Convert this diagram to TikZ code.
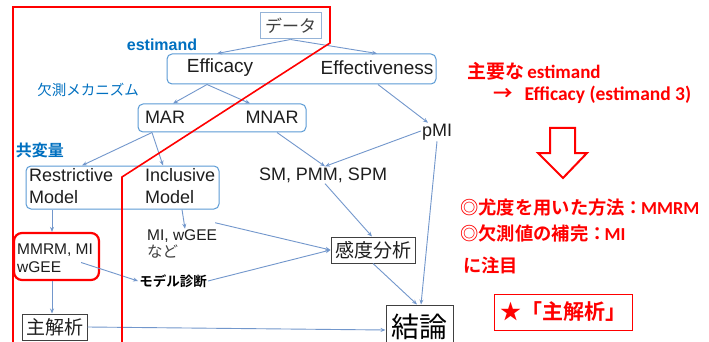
\documentclass[tikz,border=0pt]{standalone}
\usepackage{fontspec}
\setmainfont{Liberation Sans}
\newfontfamily\jp{Noto Sans CJK JP}[BoldFont={Noto Sans CJK JP Bold}]
\newfontfamily\cbr{Carlito}
\usetikzlibrary{arrows.meta}
\definecolor{arrc}{RGB}{114,151,204}
\definecolor{boxb}{RGB}{91,155,213}
\definecolor{lboxb}{RGB}{149,179,215}
\definecolor{bluet}{RGB}{0,112,192}
\definecolor{redc}{RGB}{255,0,0}
\definecolor{txt}{RGB}{30,30,30}
\definecolor{grt}{RGB}{64,64,64}
\tikzset{
  arr/.style={draw=arrc, line width=0.9pt, -{Stealth[length=5pt,width=4pt]}},
  rbox/.style={draw=boxb, line width=1pt, rounded corners=5pt, inner sep=0pt},
  gbox/.style={draw=grt, line width=1pt, inner sep=0pt, text=txt},
  lbl/.style={inner sep=1pt, text=txt},
  redbox/.style={draw=redc, line width=2.2pt, rounded corners=8pt, inner sep=0pt},
  redt/.style={inner sep=0pt, text=redc, anchor=west},
}
\newcommand{\fs}[2]{\fontsize{#1}{#2}\selectfont}
\begin{document}
\begin{tikzpicture}[x=1pt,y=-1pt]
\clip (0,0) rectangle (709,342);
\fill[white] (0,0) rectangle (709,342);

% boxes
\node[draw=lboxb, line width=1pt, inner sep=0pt, minimum width=61pt, minimum height=26pt, text=grt] (data) at (290.5,26) {\jp\fs{17}{20}データ};
\node[rbox, minimum width=269pt, minimum height=30pt] (effbox) at (301.5,69) {};
\node[lbl] (efficacy) at (220,68) {\fs{19}{22}Efficacy};
\node[lbl] (effectiveness) at (377,68) {\fs{19}{22}Effectiveness};
\node[text=bluet, inner sep=0pt] (estimand) at (162,45) {\fs{16}{19}\bfseries estimand};
\node[text=bluet, inner sep=0pt] (mech) at (88,90) {\jp\fs{14.5}{17}欠測メカニズム};

\node[rbox, minimum width=168pt, minimum height=28pt] (marbox) at (222,118) {};
\node[lbl] (mar) at (165,117.5) {\fs{18}{21}MAR};
\node[lbl] (mnar) at (272,117.5) {\fs{18}{21}MNAR};
\node[lbl] (pmi) at (437,132) {\fs{18}{21}pMI};

\node[text=bluet, inner sep=0pt] (cov) at (40,150) {\jp\bfseries\fs{16}{19}共変量};
\node[rbox, minimum width=193pt, minimum height=43pt] (covbox) at (122.5,187.5) {};
\node[lbl, anchor=west, align=left, font=\fs{18}{22}] (restr) at (28,186.5) {Restrictive\\Model};
\node[lbl, anchor=west, align=left, font=\fs{18}{22}] (incl) at (144,186.5) {Inclusive\\Model};
\node[lbl] (smpmm) at (323,175) {\fs{18}{21}SM, PMM, SPM};

\node[redbox, minimum width=85pt, minimum height=47pt] (mmrm) at (56.5,256.5) {};
\node[lbl, anchor=west, align=left, font=\fs{15.5}{17.5}] at (16,258) {MMRM, MI\\wGEE};
\node[lbl, anchor=west, align=left, font=\fs{15.5}{16.5}] (mi) at (146,244) {MI, wGEE\\{\jp\color{grt}など}};
\node[inner sep=1pt] (diag) at (173,281) {\jp\bfseries\fs{13.5}{16}モデル診断};
\node[gbox, minimum width=84pt, minimum height=26pt] (sens) at (373,250) {\jp\fs{19}{22}感度分析};
\node[gbox, minimum width=65pt, minimum height=26pt] (main) at (54.5,327) {\jp\fs{19}{22}主解析};
\node[gbox, minimum width=67pt, minimum height=44pt, text=black] (conc) at (419.5,327) {\jp\fs{28}{32}\raisebox{3pt}{結論}};

% connectors
\draw[arr] (data.south) -- ([xshift=-3pt]efficacy |- effbox.north);
\draw[arr] (data.south) -- (effectiveness |- effbox.north);
\draw[arr] ([xshift=-13pt]efficacy |- effbox.south) -- ([xshift=8pt]mar |- marbox.north);
\draw[arr] ([xshift=-13pt]efficacy |- effbox.south) -- ([xshift=-22pt]mnar |- marbox.north);
\draw[arr] ([xshift=1pt]effectiveness |- effbox.south) -- ([xshift=-9pt]pmi.north);
\draw[arr] ([xshift=-70pt]marbox.south) -- ([xshift=-40.5pt]covbox.north);
\draw[arr] ([xshift=-70pt]marbox.south) -- ([xshift=40.5pt]covbox.north);
\draw[arr] ([xshift=5pt]mnar |- marbox.south) -- ([xshift=2pt]smpmm.north);
\draw[arr] ([yshift=1pt]pmi.west) -- ([xshift=2pt]smpmm.north);
\draw[arr] ([xshift=2pt]smpmm.south) -- ([xshift=-1pt]sens.north);
\draw[arr] (pmi.south) -- ([xshift=1.5pt]conc.north);
\draw[arr] ([xshift=59.5pt]covbox.south) -- ([xshift=62.5pt]covbox.south |- mi.north);
\draw[arr] ([xshift=-70.5pt]covbox.south) -- ([xshift=-4.5pt]mmrm.north);
\draw[arr] ([xshift=-3pt,yshift=6pt]mi.north east) -- (sens.west);
\draw[arr] ([xshift=-19pt,yshift=-6pt]mmrm.east) -- (diag.west);
\draw[arr] (diag.east) -- (sens.west);
\draw[arr] (sens.south) -- ([xshift=-2.5pt]conc.north);
\draw[arr] ([xshift=-2.5pt]main.north |- mmrm.south) -- ([xshift=-2.5pt]main.north);
\draw[arr] (main.east) -- ([yshift=-3pt]conc.west);

% red outline
\draw[redc, line width=1.6pt] (13,350) -- (13,7) -- (330,7) -- (330,43) -- (122,177) -- (122,350);

% right side
\node[redt] (t1) at (467,71) {\fs{19}{22}{\jp\bfseries 主要な}\,{\cbr\bfseries estimand}};
\node[redt] (t2) at (493,95) {\fs{19.5}{22}{\jp\bfseries →}\hspace{12pt}{\cbr\bfseries Efficacy (estimand 3)}};
\draw[redc, line width=2pt, fill=white, line join=miter]
  (550,128) -- (575,128) -- (575,153) -- (587,153) -- (563,178) -- (538,153) -- (550,153) -- cycle;
\node[redt] (t3) at (460,208) {\fs{18.3}{22}{\jp\bfseries ◎尤度を用いた方法：}\hspace{-2pt}{\cbr\bfseries MMRM}};
\node[redt] (t4) at (460,233) {\fs{18.3}{22}{\jp\bfseries ◎欠測値の補完：}\hspace{-2pt}{\cbr\bfseries MI}};
\node[redt] (t5) at (463,265) {\fs{18.3}{22}\jp\bfseries に注目};
\node[draw=redc, line width=1pt, inner sep=0pt, minimum width=138pt, minimum height=36pt, text=redc] (star) at (563,312) {\jp\bfseries\fs{21}{24}★「主解析」};
\end{tikzpicture}
\end{document}
